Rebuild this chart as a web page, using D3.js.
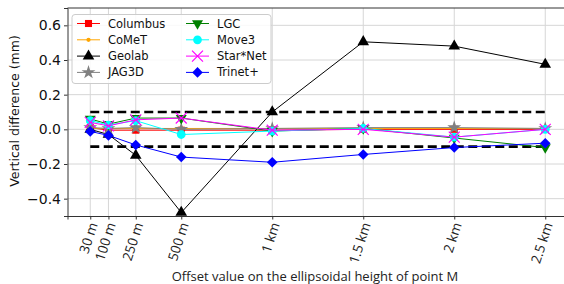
<!DOCTYPE html>
<html>
<head>
<meta charset="utf-8">
<script src="https://cdn.jsdelivr.net/npm/d3@7"></script>
<style>
  body { margin: 0; background: #fff; }
  svg { display: block; }
</style>
</head>
<body>
<div id="chart"></div>
<script>
// offsets (m) and the labels shown under them
const offsets = [0, 100, 250, 500, 1000, 1500, 2000, 2500];
const offsetLabels = ["30 m", "100 m", "250 m", "500 m", "1 km", "1.5 km", "2 km", "2.5 km"];
const yTicks = [-0.4, -0.2, 0.0, 0.2, 0.4, 0.6];
const tolerance = [0.1, -0.1];

const columbus = [0.01, -0.005, -0.005, -0.005, -0.005, 0.0, 0.0, 0.0];
const comet    = [0.005, 0.005, 0.005, 0.005, 0.005, 0.005, 0.005, 0.005];
const geolab   = [0.0, -0.03, -0.15, -0.48, 0.1, 0.505, 0.48, 0.375];
const jag3d    = [0.01, 0.005, 0.01, 0.0, 0.005, 0.01, 0.01, 0.005];
const lgc      = [0.06, 0.03, 0.065, 0.065, -0.01, 0.005, -0.05, -0.105];
const move3    = [0.05, 0.025, 0.05, -0.03, -0.01, 0.005, -0.045, 0.0];
const starnet  = [0.04, 0.02, 0.055, 0.065, -0.005, 0.0, -0.045, 0.0];
const trinet   = [-0.012, -0.035, -0.09, -0.16, -0.19, -0.145, -0.105, -0.08];

const seriesNames = ["Columbus", "CoMeT", "Geolab", "JAG3D", "LGC", "Move3", "Star*Net", "Trinet+"];
const seriesValues = [columbus, comet, geolab, jag3d, lgc, move3, starnet, trinet];
const seriesColors = ["#ff0000", "#ffa500", "#000000", "#808080", "#008000", "#00ffff", "#ff00ff", "#0000ff"];

const W = 564, H = 284;
const plotL = 67.5, plotR = 568, plotT = 8, plotB = 216;

const svg = d3.select("#chart").append("svg")
    .attr("width", W)
    .attr("height", H);

const x = d3.scaleLinear().domain([-125, 2625]).range([plotL, plotR]);
const y = d3.scaleLinear().domain([-0.5, 0.7]).range([plotB, plotT]);

// grid
svg.append("g").selectAll("line").data(offsets).enter().append("line")
    .attr("x1", d => x(d)).attr("x2", d => x(d))
    .attr("y1", plotT).attr("y2", plotB)
    .attr("stroke", "#d6d6d6").attr("stroke-width", 1);
svg.append("g").selectAll("line").data(yTicks).enter().append("line")
    .attr("x1", plotL).attr("x2", plotR)
    .attr("y1", d => y(d)).attr("y2", d => y(d))
    .attr("stroke", "#d6d6d6").attr("stroke-width", 1);

// y axis
const yAxis = svg.append("g")
    .attr("transform", `translate(${plotL},0)`)
    .call(d3.axisLeft(y).tickValues(yTicks).tickSize(3.5).tickPadding(3)
        .tickFormat(d => d3.format(".1f")(d).replace("-", "\u2212")));
yAxis.select(".domain").attr("stroke", "#333");
yAxis.selectAll(".tick line").attr("stroke", "#333");
yAxis.selectAll("text")
    .attr("font-family", "DejaVu Sans")
    .attr("font-size", "14px")
    .attr("fill", "#111");

// x axis
const xAxis = svg.append("g")
    .attr("transform", `translate(0,${plotB})`)
    .call(d3.axisBottom(x).tickValues(offsets).tickSize(3.5).tickFormat(""));
xAxis.select(".domain").attr("stroke", "#333");
xAxis.selectAll(".tick line").attr("stroke", "#333");

svg.append("g").selectAll("text").data(offsets).enter().append("text")
    .attr("transform", d => `translate(${x(d) + 3},${plotB + 7}) rotate(-72)`)
    .attr("text-anchor", "end")
    .attr("dy", "0.35em")
    .attr("font-family", "Open Sans")
    .attr("font-size", "13.5px")
    .attr("fill", "#222")
    .text((d, i) => offsetLabels[i]);

// top spine
svg.append("line")
    .attr("x1", plotL).attr("x2", plotR)
    .attr("y1", plotT).attr("y2", plotT)
    .attr("stroke", "#333");

// labels
svg.append("text")
    .attr("x", 315).attr("y", 281)
    .attr("text-anchor", "middle")
    .attr("font-family", "Open Sans")
    .attr("font-size", "13px")
    .attr("fill", "#222")
    .text("Offset value on the ellipsoidal height of point M");

svg.append("text")
    .attr("transform", "translate(15,111) rotate(-90)")
    .attr("text-anchor", "middle")
    .attr("dy", "0.35em")
    .attr("font-family", "DejaVu Sans")
    .attr("font-size", "12.5px")
    .attr("fill", "#111")
    .text("Vertical difference (mm)");

// tolerance lines
svg.append("g").selectAll("line").data(tolerance).enter().append("line")
    .attr("x1", x(offsets[0])).attr("x2", x(offsets[offsets.length - 1]))
    .attr("y1", d => y(d)).attr("y2", d => y(d))
    .attr("stroke", "#000").attr("stroke-width", 2.6)
    .attr("stroke-dasharray", "9,4.5");

// markers
function markerPath(i) {
    const shapes = [
        d3.symbol(d3.symbolSquare, 50),
        d3.symbol(d3.symbolCircle, 14),
        d3.symbol(d3.symbolTriangle, 58),
        d3.symbol(d3.symbolStar, 60),
        d3.symbol(d3.symbolTriangle, 52),
        d3.symbol(d3.symbolCircle, 60),
        d3.symbol(d3.symbolX, 80),
        d3.symbol(d3.symbolSquare, 56)
    ];
    return shapes[i]();
}
function markerTransform(i) {
    if (i === 4) return " rotate(180)";
    if (i === 7) return " rotate(45)";
    return "";
}

function drawMarker(g, i, cx, cy) {
    const p = g.append("path")
        .attr("d", markerPath(i))
        .attr("transform", `translate(${cx},${cy})` + markerTransform(i));
    if (i === 6) {
        p.attr("fill", "none").attr("stroke", seriesColors[i]).attr("stroke-width", 1.2);
    } else {
        p.attr("fill", seriesColors[i]);
    }
}

const line = d3.line()
    .x((d, i) => x(offsets[i]))
    .y(d => y(d));

seriesValues.forEach((vals, i) => {
    const g = svg.append("g");
    g.append("path")
        .attr("d", line(vals))
        .attr("fill", "none")
        .attr("stroke", seriesColors[i])
        .attr("stroke-width", 1);
    vals.forEach((v, j) => drawMarker(g, i, x(offsets[j]), y(v)));
});

// legend
const legend = svg.append("g");
legend.append("rect")
    .attr("x", 72).attr("y", 14.5)
    .attr("width", 199).attr("height", 69)
    .attr("rx", 3)
    .attr("fill", "#fff").attr("fill-opacity", 0.85)
    .attr("stroke", "#ccc");

seriesNames.forEach((name, i) => {
    const col = Math.floor(i / 4), row = i % 4;
    const hx = col === 0 ? 77 : 186;
    const ly = 23.5 + row * 16.3;
    const g = legend.append("g");
    g.append("line")
        .attr("x1", hx).attr("x2", hx + 23)
        .attr("y1", ly).attr("y2", ly)
        .attr("stroke", seriesColors[i]).attr("stroke-width", 1);
    drawMarker(g, i, hx + 11.5, ly);
    g.append("text")
        .attr("x", hx + 31).attr("y", ly)
        .attr("dy", "0.35em")
        .attr("font-family", "DejaVu Sans")
        .attr("font-size", "11.5px")
        .attr("fill", "#111")
        .text(name);
});
</script>
</body>
</html>
